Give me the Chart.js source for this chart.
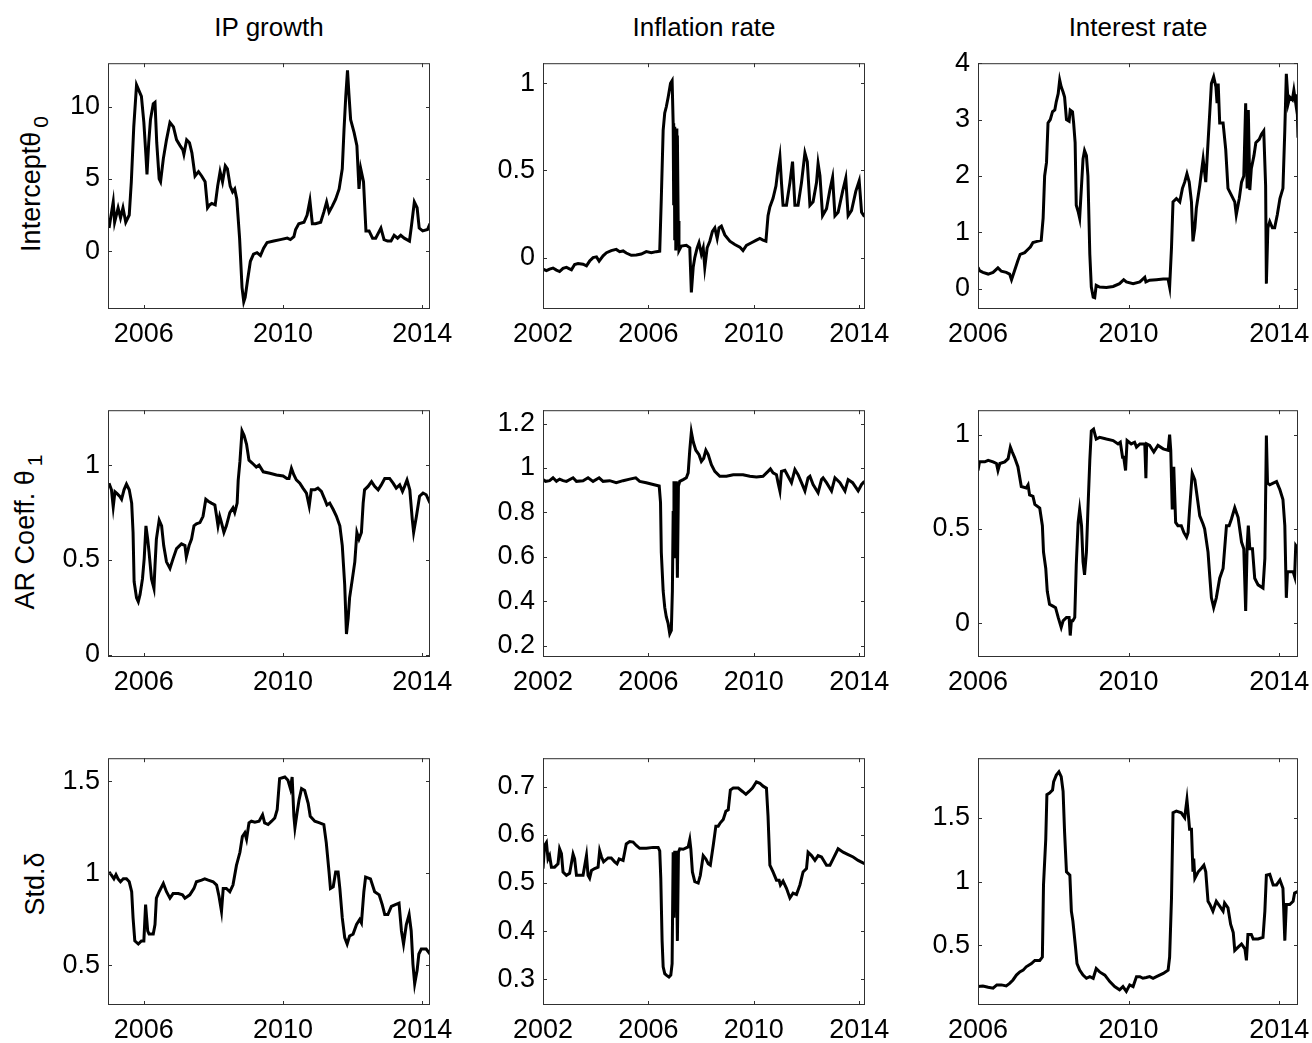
<!DOCTYPE html>
<html>
<head>
<meta charset="utf-8">
<script src="https://cdn.jsdelivr.net/npm/chart.js@4.4.1/dist/chart.umd.min.js"></script>
<style>
  body { margin: 0; background: #fff; width: 1312px; height: 1043px; position: relative; overflow: hidden;
         font-family: "Liberation Sans", Arial, sans-serif; color: #000; }
  canvas { position: absolute; }
  .title { position: absolute; top: 11px; width: 300px; text-align: center; font-size: 26px; line-height: 32px; }
  .ylab { position: absolute; width: 340px; text-align: center; font-size: 27px; line-height: 30px;
          transform: translate(-50%, -50%) rotate(-90deg); white-space: nowrap; }
  .ylab sub { font-size: 21px; vertical-align: -8px; margin-left: 4px; }
</style>
</head>
<body>
<div class="title" style="left:119px">IP growth</div>
<div class="title" style="left:554px">Inflation rate</div>
<div class="title" style="left:988px">Interest rate</div>
<div class="ylab" style="left:36px; top:184px">Intercept&#952;<sub>0</sub></div>
<div class="ylab" style="left:30px; top:532px">AR Coeff. &#952;<sub>1</sub></div>
<div class="ylab" style="left:35px; top:884px">Std.&#948;</div>

<script>
// tick labels
const xTicksIP = [2006, 2010, 2014];
const xTicksInfl = [2002, 2006, 2010, 2014];
const xTicksInt = [2006, 2010, 2014];
const yTicks = {
  ipIntercept: [0, 5, 10],
  inflIntercept: [0, 0.5, 1],
  intIntercept: [0, 1, 2, 3, 4],
  ipAR: [0, 0.5, 1],
  inflAR: [0.2, 0.4, 0.6, 0.8, 1, 1.2],
  intAR: [0, 0.5, 1],
  ipStd: [0.5, 1, 1.5],
  inflStd: [0.3, 0.4, 0.5, 0.6, 0.7],
  intStd: [0.5, 1, 1.5]
};

// series: [year, value]
const ipIntercept = [[2005.0,1.6],[2005.12,3.4],[2005.16,2.0],[2005.26,3.0],[2005.33,2.3],[2005.40,3.0],[2005.48,2.0],[2005.58,2.5],[2005.64,4.8],[2005.71,8.6],[2005.79,11.5],[2005.93,10.7],[2006.0,8.9],[2006.06,6.6],[2006.09,5.3],[2006.14,7.5],[2006.19,9.1],[2006.27,10.2],[2006.32,10.3],[2006.37,7.5],[2006.44,5.0],[2006.48,4.8],[2006.56,6.4],[2006.65,7.7],[2006.75,8.9],[2006.85,8.6],[2006.94,7.7],[2007.04,7.3],[2007.12,7.0],[2007.15,6.7],[2007.23,7.7],[2007.31,7.5],[2007.38,6.8],[2007.47,5.2],[2007.57,5.5],[2007.66,5.2],[2007.76,4.8],[2007.83,3.0],[2007.89,3.2],[2007.95,3.3],[2008.05,3.2],[2008.12,4.5],[2008.19,5.5],[2008.26,4.8],[2008.34,5.9],[2008.40,5.7],[2008.48,4.5],[2008.55,4.1],[2008.61,4.3],[2008.67,3.6],[2008.75,0.9],[2008.82,-2.5],[2008.87,-3.5],[2008.91,-3.2],[2008.98,-2.0],[2009.06,-0.7],[2009.15,-0.2],[2009.25,-0.1],[2009.35,-0.3],[2009.44,0.2],[2009.54,0.6],[2009.73,0.7],[2009.92,0.8],[2010.12,0.9],[2010.21,0.8],[2010.31,1.0],[2010.36,1.5],[2010.45,1.9],[2010.60,2.0],[2010.69,2.5],[2010.77,3.5],[2010.84,1.9],[2010.93,1.9],[2011.08,2.0],[2011.17,2.7],[2011.25,3.4],[2011.32,2.7],[2011.41,3.1],[2011.51,3.6],[2011.61,4.3],[2011.70,5.7],[2011.75,8.4],[2011.80,10.7],[2011.85,12.5],[2011.89,10.9],[2011.94,9.1],[2012.04,8.2],[2012.12,7.3],[2012.18,4.3],[2012.23,5.7],[2012.31,4.8],[2012.38,1.4],[2012.47,1.4],[2012.57,0.9],[2012.66,0.9],[2012.81,1.6],[2012.90,0.8],[2013.0,0.7],[2013.10,0.7],[2013.19,1.1],[2013.29,0.9],[2013.38,1.1],[2013.48,0.9],[2013.63,0.7],[2013.69,1.8],[2013.77,3.4],[2013.85,3.0],[2013.91,1.6],[2014.01,1.4],[2014.15,1.5],[2014.22,1.9]];

const inflIntercept = [[2002.0,-0.066],[2002.13,-0.075],[2002.25,-0.066],[2002.38,-0.06],[2002.51,-0.072],[2002.63,-0.08],[2002.76,-0.062],[2002.89,-0.056],[2003.08,-0.07],[2003.20,-0.04],[2003.33,-0.034],[2003.52,-0.038],[2003.65,-0.047],[2003.77,-0.02],[2003.90,0.0],[2004.03,0.004],[2004.13,-0.02],[2004.28,0.01],[2004.41,0.028],[2004.59,0.04],[2004.78,0.047],[2004.91,0.034],[2005.04,0.038],[2005.16,0.026],[2005.35,0.013],[2005.54,0.015],[2005.73,0.02],[2005.92,0.034],[2006.11,0.028],[2006.30,0.034],[2006.43,0.037],[2006.49,0.34],[2006.56,0.73],[2006.62,0.83],[2006.68,0.865],[2006.75,0.92],[2006.84,1.0],[2006.90,1.015],[2006.94,0.77],[2006.96,0.3],[2006.98,0.75],[2007.00,0.1],[2007.02,0.74],[2007.04,0.04],[2007.06,0.74],[2007.08,0.2],[2007.10,0.7],[2007.13,0.21],[2007.16,0.04],[2007.25,0.066],[2007.44,0.07],[2007.57,0.056],[2007.63,-0.2],[2007.70,-0.056],[2007.76,0.0],[2007.85,0.056],[2007.92,0.085],[2008.01,0.02],[2008.08,0.056],[2008.14,-0.056],[2008.23,0.056],[2008.33,0.094],[2008.43,0.15],[2008.52,0.17],[2008.61,0.11],[2008.68,0.17],[2008.77,0.18],[2008.90,0.13],[2009.09,0.094],[2009.28,0.075],[2009.47,0.06],[2009.59,0.04],[2009.72,0.07],[2009.91,0.085],[2010.10,0.10],[2010.23,0.11],[2010.35,0.10],[2010.46,0.094],[2010.54,0.24],[2010.61,0.29],[2010.73,0.34],[2010.84,0.41],[2010.92,0.51],[2010.99,0.58],[2011.05,0.43],[2011.11,0.30],[2011.24,0.30],[2011.37,0.43],[2011.47,0.55],[2011.56,0.30],[2011.68,0.30],[2011.81,0.43],[2011.94,0.60],[2012.03,0.55],[2012.13,0.30],[2012.25,0.32],[2012.38,0.43],[2012.44,0.54],[2012.51,0.47],[2012.61,0.24],[2012.76,0.28],[2012.89,0.39],[2012.99,0.46],[2013.08,0.24],[2013.20,0.26],[2013.37,0.38],[2013.49,0.455],[2013.58,0.24],[2013.71,0.27],[2013.87,0.38],[2014.00,0.44],[2014.09,0.26],[2014.20,0.235]];

const intIntercept = [[2006.0,0.38],[2006.04,0.32],[2006.13,0.29],[2006.27,0.26],[2006.40,0.29],[2006.53,0.37],[2006.62,0.31],[2006.75,0.29],[2006.84,0.26],[2006.89,0.16],[2006.97,0.32],[2007.06,0.50],[2007.12,0.61],[2007.24,0.64],[2007.33,0.70],[2007.39,0.74],[2007.46,0.82],[2007.57,0.84],[2007.68,0.86],[2007.73,1.25],[2007.77,2.0],[2007.82,2.24],[2007.86,2.94],[2007.92,3.0],[2007.98,3.14],[2008.04,3.17],[2008.08,3.32],[2008.13,3.46],[2008.17,3.70],[2008.21,3.58],[2008.26,3.49],[2008.30,3.40],[2008.35,3.0],[2008.42,2.97],[2008.45,3.17],[2008.51,3.14],[2008.54,2.94],[2008.58,2.59],[2008.61,1.48],[2008.66,1.37],[2008.70,1.25],[2008.75,1.83],[2008.79,2.30],[2008.83,2.45],[2008.88,2.36],[2008.92,2.0],[2008.97,0.61],[2009.01,0.03],[2009.06,-0.15],[2009.10,-0.16],[2009.14,0.06],[2009.23,0.03],[2009.41,0.02],[2009.59,0.04],[2009.76,0.09],[2009.87,0.16],[2009.94,0.12],[2010.12,0.09],[2010.30,0.12],[2010.43,0.20],[2010.46,0.12],[2010.56,0.15],[2010.74,0.16],[2010.92,0.17],[2011.05,0.17],[2011.09,0.03],[2011.14,0.73],[2011.18,1.54],[2011.27,1.60],[2011.36,1.54],[2011.43,1.78],[2011.49,1.89],[2011.55,2.04],[2011.61,1.89],[2011.67,1.54],[2011.71,0.84],[2011.76,1.08],[2011.80,1.43],[2011.89,1.83],[2011.98,2.30],[2012.05,1.89],[2012.11,2.59],[2012.16,3.17],[2012.20,3.64],[2012.26,3.76],[2012.32,3.58],[2012.35,3.29],[2012.38,3.64],[2012.42,2.94],[2012.51,2.94],[2012.58,2.47],[2012.64,1.78],[2012.73,1.66],[2012.82,1.54],[2012.86,1.31],[2012.94,1.60],[2013.00,1.89],[2013.06,2.0],[2013.11,3.29],[2013.15,1.78],[2013.18,3.17],[2013.22,1.75],[2013.26,2.13],[2013.33,2.36],[2013.38,2.59],[2013.47,2.65],[2013.53,2.74],[2013.59,2.80],[2013.64,1.83],[2013.66,0.09],[2013.70,1.08],[2013.75,1.19],[2013.82,1.08],[2013.88,1.08],[2013.95,1.31],[2014.02,1.60],[2014.10,1.78],[2014.15,2.82],[2014.19,3.81],[2014.24,3.29],[2014.28,3.40],[2014.35,3.35],[2014.39,3.52],[2014.44,3.29],[2014.47,3.45],[2014.50,2.68]];

const ipAR = [[2005.0,0.905],[2005.07,0.87],[2005.12,0.78],[2005.17,0.86],[2005.23,0.85],[2005.31,0.835],[2005.36,0.82],[2005.43,0.87],[2005.50,0.90],[2005.58,0.87],[2005.65,0.80],[2005.69,0.645],[2005.72,0.386],[2005.79,0.30],[2005.84,0.28],[2005.89,0.317],[2005.96,0.40],[2006.01,0.507],[2006.06,0.68],[2006.11,0.61],[2006.15,0.54],[2006.22,0.40],[2006.29,0.35],[2006.32,0.47],[2006.36,0.61],[2006.44,0.71],[2006.51,0.68],[2006.57,0.576],[2006.65,0.49],[2006.75,0.455],[2006.84,0.507],[2006.94,0.56],[2007.08,0.585],[2007.18,0.576],[2007.22,0.516],[2007.30,0.576],[2007.37,0.61],[2007.44,0.68],[2007.51,0.69],[2007.61,0.697],[2007.70,0.73],[2007.78,0.82],[2007.85,0.81],[2007.94,0.80],[2008.04,0.79],[2008.09,0.73],[2008.13,0.68],[2008.18,0.73],[2008.23,0.697],[2008.30,0.645],[2008.37,0.68],[2008.47,0.75],[2008.56,0.775],[2008.61,0.75],[2008.68,0.80],[2008.71,0.92],[2008.76,1.02],[2008.82,1.18],[2008.88,1.156],[2008.95,1.11],[2009.02,1.026],[2009.12,1.01],[2009.23,0.99],[2009.31,1.0],[2009.43,0.965],[2009.62,0.957],[2009.81,0.948],[2010.00,0.943],[2010.11,0.93],[2010.17,0.93],[2010.24,0.983],[2010.31,0.948],[2010.38,0.922],[2010.48,0.905],[2010.57,0.879],[2010.67,0.853],[2010.75,0.784],[2010.81,0.87],[2010.91,0.87],[2011.00,0.879],[2011.10,0.862],[2011.20,0.818],[2011.26,0.79],[2011.34,0.80],[2011.44,0.766],[2011.53,0.732],[2011.63,0.68],[2011.70,0.576],[2011.77,0.368],[2011.82,0.109],[2011.87,0.195],[2011.91,0.30],[2011.99,0.40],[2012.06,0.49],[2012.12,0.645],[2012.18,0.61],[2012.25,0.645],[2012.30,0.80],[2012.34,0.87],[2012.44,0.888],[2012.54,0.913],[2012.63,0.888],[2012.73,0.87],[2012.82,0.896],[2012.92,0.93],[2013.06,0.93],[2013.16,0.905],[2013.25,0.879],[2013.35,0.896],[2013.43,0.862],[2013.49,0.888],[2013.56,0.922],[2013.64,0.87],[2013.71,0.715],[2013.75,0.645],[2013.83,0.73],[2013.92,0.836],[2014.02,0.853],[2014.11,0.844],[2014.22,0.80]];

const inflAR = [[2002.0,0.948],[2002.10,0.94],[2002.25,0.943],[2002.38,0.956],[2002.51,0.94],[2002.63,0.95],[2002.76,0.943],[2002.89,0.94],[2003.14,0.956],[2003.27,0.94],[2003.52,0.943],[2003.71,0.956],[2003.90,0.94],[2004.13,0.956],[2004.28,0.94],[2004.53,0.943],[2004.78,0.934],[2005.04,0.943],[2005.29,0.95],[2005.52,0.956],[2005.67,0.94],[2005.92,0.934],[2006.18,0.926],[2006.41,0.919],[2006.46,0.845],[2006.49,0.62],[2006.56,0.447],[2006.62,0.373],[2006.68,0.33],[2006.75,0.30],[2006.81,0.255],[2006.87,0.27],[2006.91,0.447],[2006.94,0.80],[2006.97,0.94],[2007.01,0.594],[2007.06,0.94],[2007.10,0.506],[2007.14,0.919],[2007.19,0.94],[2007.32,0.948],[2007.44,0.956],[2007.51,0.978],[2007.57,1.08],[2007.63,1.162],[2007.70,1.118],[2007.80,1.08],[2007.92,1.06],[2008.01,1.03],[2008.10,1.044],[2008.18,1.08],[2008.27,1.06],[2008.39,1.015],[2008.52,0.985],[2008.71,0.963],[2008.96,0.963],[2009.22,0.97],[2009.59,0.97],[2009.85,0.963],[2010.10,0.96],[2010.35,0.963],[2010.54,0.985],[2010.63,0.996],[2010.73,0.978],[2010.86,0.97],[2010.92,0.934],[2010.99,0.897],[2011.05,0.985],[2011.18,0.99],[2011.30,0.963],[2011.43,0.934],[2011.56,0.993],[2011.68,0.97],[2011.81,0.934],[2011.94,0.897],[2012.06,0.956],[2012.13,0.963],[2012.25,0.926],[2012.44,0.889],[2012.57,0.948],[2012.63,0.956],[2012.76,0.934],[2012.95,0.897],[2013.08,0.956],[2013.27,0.934],[2013.46,0.897],[2013.58,0.948],[2013.75,0.934],[2013.96,0.897],[2014.09,0.926],[2014.20,0.94]];

const intAR = [[2006.0,0.81],[2006.04,0.856],[2006.18,0.856],[2006.27,0.864],[2006.40,0.856],[2006.49,0.847],[2006.53,0.81],[2006.58,0.847],[2006.71,0.856],[2006.80,0.873],[2006.86,0.934],[2006.91,0.908],[2006.97,0.88],[2007.06,0.83],[2007.15,0.725],[2007.28,0.717],[2007.33,0.734],[2007.37,0.68],[2007.46,0.673],[2007.51,0.63],[2007.64,0.61],[2007.71,0.517],[2007.74,0.377],[2007.80,0.29],[2007.84,0.169],[2007.90,0.10],[2007.99,0.09],[2008.06,0.082],[2008.13,0.03],[2008.21,-0.023],[2008.26,0.012],[2008.35,0.03],[2008.42,0.03],[2008.45,-0.066],[2008.48,0.012],[2008.52,0.012],[2008.57,0.03],[2008.61,0.308],[2008.66,0.534],[2008.70,0.603],[2008.75,0.517],[2008.79,0.325],[2008.83,0.256],[2008.88,0.377],[2008.92,0.603],[2008.97,0.864],[2009.01,1.02],[2009.07,1.03],[2009.14,0.977],[2009.23,0.986],[2009.41,0.977],[2009.59,0.969],[2009.72,0.951],[2009.78,0.96],[2009.84,0.88],[2009.87,0.88],[2009.92,0.81],[2009.96,0.969],[2010.07,0.951],[2010.16,0.96],[2010.21,0.934],[2010.30,0.951],[2010.43,0.951],[2010.46,0.769],[2010.48,0.951],[2010.56,0.943],[2010.67,0.908],[2010.78,0.943],[2010.92,0.925],[2011.05,0.917],[2011.09,1.0],[2011.12,0.917],[2011.16,0.603],[2011.20,0.83],[2011.25,0.534],[2011.31,0.517],[2011.40,0.517],[2011.47,0.48],[2011.54,0.456],[2011.58,0.48],[2011.62,0.603],[2011.69,0.795],[2011.76,0.76],[2011.82,0.673],[2011.89,0.569],[2011.98,0.525],[2012.02,0.50],[2012.11,0.377],[2012.16,0.238],[2012.20,0.134],[2012.26,0.082],[2012.33,0.134],[2012.42,0.238],[2012.51,0.29],[2012.60,0.517],[2012.67,0.517],[2012.73,0.551],[2012.82,0.612],[2012.91,0.56],[2013.00,0.43],[2013.06,0.395],[2013.11,0.064],[2013.15,0.412],[2013.18,0.517],[2013.22,0.395],[2013.29,0.395],[2013.35,0.238],[2013.44,0.203],[2013.57,0.186],[2013.62,0.343],[2013.66,0.995],[2013.69,0.743],[2013.75,0.734],[2013.84,0.743],[2013.93,0.751],[2014.02,0.708],[2014.10,0.656],[2014.15,0.517],[2014.19,0.134],[2014.22,0.273],[2014.28,0.273],[2014.37,0.273],[2014.41,0.247],[2014.44,0.412],[2014.50,0.395]];

const ipStd = [[2005.0,1.007],[2005.07,0.99],[2005.14,0.97],[2005.20,0.993],[2005.26,0.97],[2005.33,0.954],[2005.41,0.97],[2005.50,0.97],[2005.58,0.954],[2005.65,0.90],[2005.69,0.758],[2005.74,0.633],[2005.84,0.616],[2005.93,0.633],[2006.00,0.633],[2006.05,0.83],[2006.08,0.758],[2006.11,0.687],[2006.15,0.67],[2006.27,0.67],[2006.32,0.722],[2006.36,0.865],[2006.44,0.90],[2006.56,0.945],[2006.65,0.90],[2006.75,0.865],[2006.84,0.89],[2006.99,0.89],[2007.11,0.883],[2007.18,0.865],[2007.32,0.883],[2007.44,0.918],[2007.51,0.954],[2007.66,0.963],[2007.75,0.97],[2007.85,0.963],[2007.99,0.954],[2008.09,0.936],[2008.16,0.874],[2008.23,0.794],[2008.28,0.918],[2008.37,0.918],[2008.47,0.90],[2008.56,0.936],[2008.66,1.043],[2008.76,1.114],[2008.83,1.20],[2008.90,1.22],[2008.95,1.185],[2009.02,1.274],[2009.09,1.283],[2009.19,1.278],[2009.31,1.283],[2009.41,1.318],[2009.47,1.274],[2009.57,1.265],[2009.67,1.283],[2009.76,1.30],[2009.83,1.345],[2009.90,1.514],[2010.05,1.523],[2010.14,1.505],[2010.21,1.46],[2010.26,1.523],[2010.31,1.31],[2010.34,1.247],[2010.40,1.327],[2010.46,1.40],[2010.53,1.46],[2010.62,1.45],[2010.72,1.38],[2010.78,1.31],[2010.91,1.283],[2011.05,1.274],[2011.17,1.265],[2011.24,1.167],[2011.32,1.007],[2011.36,0.918],[2011.44,0.927],[2011.51,1.007],[2011.58,1.007],[2011.63,0.918],[2011.70,0.758],[2011.77,0.651],[2011.84,0.616],[2011.91,0.66],[2012.01,0.67],[2012.11,0.722],[2012.20,0.749],[2012.25,0.731],[2012.32,0.90],[2012.37,0.98],[2012.51,0.97],[2012.63,0.90],[2012.76,0.883],[2012.85,0.829],[2012.92,0.776],[2013.01,0.776],[2013.11,0.82],[2013.21,0.829],[2013.33,0.838],[2013.40,0.687],[2013.46,0.616],[2013.54,0.722],[2013.62,0.776],[2013.68,0.687],[2013.73,0.507],[2013.78,0.40],[2013.85,0.473],[2013.90,0.562],[2013.97,0.589],[2014.11,0.589],[2014.22,0.562]];

const inflStd = [[2002.0,0.53],[2002.06,0.578],[2002.13,0.584],[2002.19,0.55],[2002.25,0.557],[2002.32,0.533],[2002.44,0.533],[2002.57,0.54],[2002.63,0.571],[2002.70,0.561],[2002.76,0.523],[2002.89,0.516],[2003.01,0.52],[2003.14,0.56],[2003.20,0.55],[2003.27,0.516],[2003.39,0.516],[2003.52,0.516],[2003.65,0.557],[2003.71,0.516],[2003.77,0.51],[2003.84,0.526],[2003.96,0.53],[2004.09,0.533],[2004.15,0.567],[2004.22,0.554],[2004.30,0.544],[2004.47,0.552],[2004.59,0.552],[2004.72,0.544],[2004.81,0.54],[2004.89,0.55],[2005.04,0.547],[2005.10,0.564],[2005.16,0.581],[2005.29,0.586],[2005.42,0.585],[2005.54,0.578],[2005.67,0.572],[2005.92,0.572],[2006.18,0.574],[2006.37,0.574],[2006.43,0.567],[2006.47,0.51],[2006.52,0.38],[2006.56,0.326],[2006.62,0.312],[2006.68,0.309],[2006.78,0.305],[2006.85,0.309],[2006.90,0.333],[2006.94,0.564],[2006.97,0.428],[2007.00,0.567],[2007.04,0.49],[2007.06,0.567],[2007.10,0.38],[2007.14,0.564],[2007.19,0.571],[2007.32,0.57],[2007.51,0.575],[2007.57,0.59],[2007.61,0.571],[2007.67,0.523],[2007.76,0.503],[2007.89,0.50],[2007.97,0.516],[2008.08,0.557],[2008.18,0.55],[2008.27,0.54],[2008.35,0.537],[2008.46,0.578],[2008.56,0.618],[2008.65,0.618],[2008.73,0.625],[2008.84,0.632],[2008.94,0.649],[2009.03,0.652],[2009.11,0.693],[2009.22,0.697],[2009.41,0.697],[2009.57,0.69],[2009.70,0.684],[2009.82,0.69],[2009.95,0.697],[2010.10,0.71],[2010.23,0.707],[2010.35,0.701],[2010.48,0.697],[2010.54,0.639],[2010.61,0.537],[2010.73,0.523],[2010.86,0.506],[2010.96,0.506],[2011.01,0.496],[2011.11,0.504],[2011.24,0.489],[2011.37,0.469],[2011.49,0.479],[2011.62,0.476],[2011.75,0.496],[2011.87,0.523],[2012.00,0.53],[2012.06,0.564],[2012.19,0.557],[2012.32,0.547],[2012.44,0.557],[2012.57,0.554],[2012.76,0.537],[2012.89,0.537],[2013.01,0.55],[2013.20,0.571],[2013.39,0.564],[2013.58,0.559],[2013.77,0.554],[2013.96,0.547],[2014.20,0.54]];

const intStd = [[2006.0,0.175],[2006.13,0.18],[2006.27,0.17],[2006.40,0.162],[2006.50,0.188],[2006.62,0.188],[2006.75,0.18],[2006.84,0.20],[2006.93,0.227],[2007.02,0.265],[2007.11,0.29],[2007.20,0.304],[2007.28,0.33],[2007.42,0.356],[2007.51,0.38],[2007.64,0.38],[2007.71,0.407],[2007.74,0.974],[2007.80,1.335],[2007.83,1.683],[2007.90,1.696],[2007.98,1.72],[2008.01,1.786],[2008.08,1.837],[2008.15,1.863],[2008.21,1.825],[2008.26,1.71],[2008.30,1.387],[2008.35,1.077],[2008.44,1.05],[2008.48,0.768],[2008.52,0.69],[2008.59,0.485],[2008.63,0.356],[2008.70,0.304],[2008.79,0.265],[2008.88,0.24],[2008.97,0.253],[2009.06,0.24],[2009.14,0.317],[2009.23,0.29],[2009.37,0.265],[2009.50,0.214],[2009.63,0.175],[2009.76,0.15],[2009.85,0.175],[2009.94,0.137],[2010.03,0.188],[2010.12,0.175],[2010.21,0.253],[2010.30,0.253],[2010.38,0.24],[2010.47,0.246],[2010.56,0.253],[2010.65,0.24],[2010.74,0.253],[2010.92,0.278],[2011.05,0.304],[2011.09,0.407],[2011.14,0.871],[2011.18,1.541],[2011.27,1.554],[2011.40,1.541],[2011.49,1.503],[2011.55,1.644],[2011.59,1.515],[2011.62,1.412],[2011.67,1.412],[2011.71,1.077],[2011.73,1.18],[2011.76,1.026],[2011.85,1.077],[2011.93,1.103],[2012.00,1.129],[2012.05,1.077],[2012.11,0.845],[2012.16,0.82],[2012.24,0.768],[2012.33,0.845],[2012.42,0.807],[2012.51,0.768],[2012.55,0.832],[2012.64,0.794],[2012.71,0.665],[2012.78,0.60],[2012.82,0.459],[2012.91,0.485],[2013.00,0.51],[2013.09,0.472],[2013.13,0.381],[2013.17,0.585],[2013.26,0.585],[2013.31,0.549],[2013.44,0.549],[2013.57,0.562],[2013.62,0.768],[2013.66,1.05],[2013.75,1.057],[2013.84,0.974],[2013.93,0.974],[2014.02,1.013],[2014.10,0.948],[2014.15,0.536],[2014.19,0.82],[2014.28,0.82],[2014.37,0.845],[2014.41,0.91],[2014.50,0.923]];

// plot boxes on the page
const cols = [
  { left: 108, width: 322, xMin: 2004.97, xMax: 2014.22, xTicks: xTicksIP },
  { left: 543, width: 322, xMin: 2002.0, xMax: 2014.22, xTicks: xTicksInfl },
  { left: 978, width: 320, xMin: 2006.0, xMax: 2014.5, xTicks: xTicksInt }
];
const rows = [
  { top: 59, height: 250 },
  { top: 406, height: 251 },
  { top: 754, height: 251 }
];
const panels = [
  { r: 0, c: 0, data: ipIntercept, yMin: -4, yMax: 13, yt: yTicks.ipIntercept },
  { r: 0, c: 1, data: inflIntercept, yMin: -0.295, yMax: 1.115, yt: yTicks.inflIntercept },
  { r: 0, c: 2, data: intIntercept, yMin: -0.36, yMax: 4, yt: yTicks.intIntercept },
  { r: 1, c: 0, data: ipAR, yMin: -0.012, yMax: 1.29, yt: yTicks.ipAR },
  { r: 1, c: 1, data: inflAR, yMin: 0.15, yMax: 1.26, yt: yTicks.inflAR },
  { r: 1, c: 2, data: intAR, yMin: -0.18, yMax: 1.13, yt: yTicks.intAR },
  { r: 2, c: 0, data: ipStd, yMin: 0.285, yMax: 1.625, yt: yTicks.ipStd },
  { r: 2, c: 1, data: inflStd, yMin: 0.247, yMax: 0.759, yt: yTicks.inflStd },
  { r: 2, c: 2, data: intStd, yMin: 0.03, yMax: 1.97, yt: yTicks.intStd }
];

const PAD_L = 100, PAD_T = 20, PAD_R = 36, PAD_B = 50;

// box with inward ticks on all four sides
const boxTicks = {
  id: 'boxTicks',
  afterDraw(chart) {
    const { ctx, chartArea: a, scales: { x, y } } = chart;
    ctx.save();
    ctx.strokeStyle = '#303030';
    ctx.lineWidth = 1;
    ctx.strokeRect(a.left + 0.5, a.top + 0.5, a.width - 1, a.height - 1);
    ctx.beginPath();
    x.ticks.forEach(t => {
      const px = Math.round(x.getPixelForValue(t.value)) + 0.5;
      ctx.moveTo(px, a.bottom); ctx.lineTo(px, a.bottom - 4);
      ctx.moveTo(px, a.top); ctx.lineTo(px, a.top + 4);
    });
    y.ticks.forEach(t => {
      const py = Math.round(y.getPixelForValue(t.value)) + 0.5;
      ctx.moveTo(a.left, py); ctx.lineTo(a.left + 4, py);
      ctx.moveTo(a.right, py); ctx.lineTo(a.right - 4, py);
    });
    ctx.stroke();
    ctx.restore();
  }
};

Chart.defaults.font.family = '"Liberation Sans", Arial, sans-serif';
Chart.defaults.font.size = 27;
Chart.defaults.color = '#000';

panels.forEach(p => {
  const col = cols[p.c], row = rows[p.r];
  const cv = document.createElement('canvas');
  cv.width = col.width + PAD_L + PAD_R;
  cv.height = row.height + PAD_T + PAD_B;
  cv.style.left = (col.left - PAD_L) + 'px';
  cv.style.top = (row.top - PAD_T) + 'px';
  document.body.appendChild(cv);

  new Chart(cv.getContext('2d'), {
    type: 'line',
    data: {
      datasets: [{
        data: p.data.map(d => ({ x: d[0], y: d[1] })),
        borderColor: '#000',
        borderWidth: 3,
        pointRadius: 0,
        tension: 0,
        fill: false
      }]
    },
    options: {
      responsive: false,
      animation: false,
      events: [],
      layout: { padding: { left: 0, top: PAD_T, right: PAD_R, bottom: 0 } },
      plugins: { legend: { display: false }, tooltip: { enabled: false } },
      scales: {
        x: {
          type: 'linear',
          min: col.xMin,
          max: col.xMax,
          grid: { display: false, drawTicks: false },
          border: { display: false },
          afterBuildTicks: s => { s.ticks = col.xTicks.map(v => ({ value: v })); },
          afterFit: s => { s.height = PAD_B; },
          ticks: { padding: 9, maxRotation: 0, autoSkip: false, callback: v => String(v) }
        },
        y: {
          min: p.yMin,
          max: p.yMax,
          grid: { display: false, drawTicks: false },
          border: { display: false },
          afterBuildTicks: s => { s.ticks = p.yt.map(v => ({ value: v })); },
          afterFit: s => { s.width = PAD_L; },
          ticks: { padding: 8, autoSkip: false, callback: v => String(v) }
        }
      }
    },
    plugins: [boxTicks]
  });
});
</script>
</body>
</html>
